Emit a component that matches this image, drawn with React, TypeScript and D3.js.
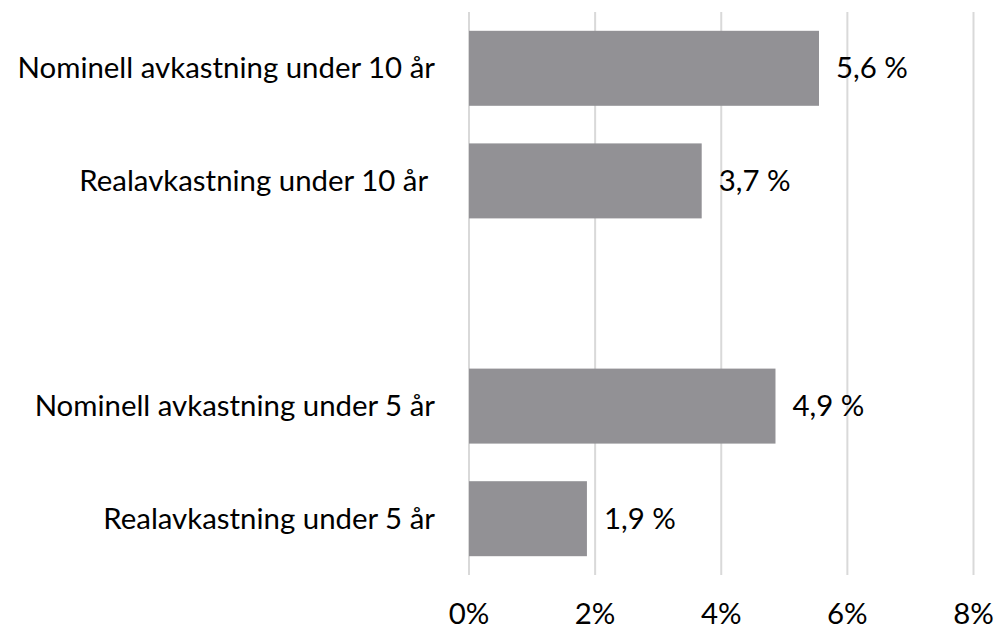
import React from "react";
import * as d3 from "d3";

const categories = [
  "Nominell avkastning under 10 år",
  "Realavkastning under 10 år ",
  "",
  "Nominell avkastning under 5 år",
  "Realavkastning under 5 år",
];
const values: (number | null)[] = [5.55, 3.69, null, 4.86, 1.87];
const valueLabels = ["5,6 %", "3,7 %", "", "4,9 %", "1,9 %"];
const xTicks = [0, 2, 4, 6, 8];

const W = 997;
const H = 630;
const FONT = "Lato, 'Open Sans', sans-serif";
const FS = 29.4;

export default function App() {
  const x = d3.scaleLinear().domain([0, 8]).range([469, 973.5]);
  const y = d3
    .scaleBand<string>()
    .domain(categories.map((c, i) => String(i)))
    .range([12, 575])
    .paddingInner(0.334)
    .paddingOuter(0.167);

  return (
    <div style={{ position: "absolute", left: 0, top: 0 }}>
      <svg width={W} height={H} style={{ display: "block", background: "#fff" }}>
        {xTicks.map((t) => (
          <g key={t}>
            <line
              x1={x(t)}
              x2={x(t)}
              y1={12}
              y2={575}
              stroke="#d9d9d9"
              strokeWidth={2}
            />
            <text
              x={x(t)}
              y={624}
              textAnchor="middle"
              fontFamily={FONT}
              fontSize={FS}
              fill="#000"
            >
              {t}%
            </text>
          </g>
        ))}
        {values.map((v, i) =>
          v == null ? null : (
            <g key={i}>
              <rect
                x={x(0)}
                y={y(String(i))}
                width={x(v) - x(0)}
                height={y.bandwidth()}
                fill="#929195"
              />
              <text
                x={x(v) + 17}
                y={(y(String(i)) as number) + y.bandwidth() / 2 + 10}
                fontFamily={FONT}
                fontSize={FS}
                fill="#000"
              >
                {valueLabels[i]}
              </text>
            </g>
          )
        )}
        {categories.map((c, i) =>
          c ? (
            <text
              key={i}
              x={435}
              y={(y(String(i)) as number) + y.bandwidth() / 2 + 10}
              textAnchor="end"
              fontFamily={FONT}
              fontSize={FS}
              fill="#000"
              style={{ whiteSpace: "pre" }}
            >
              {c}
            </text>
          ) : null
        )}
      </svg>
    </div>
  );
}
